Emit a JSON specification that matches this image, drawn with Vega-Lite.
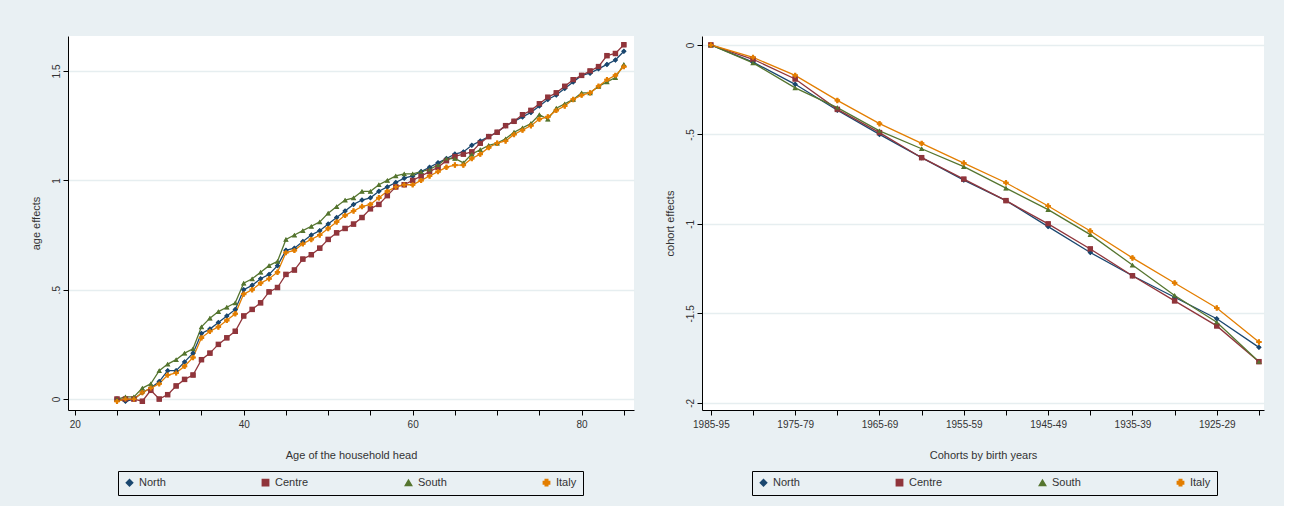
{
  "$schema": "https://vega.github.io/schema/vega-lite/v6.json",
  "background": "#e9f0f3",
  "padding": {"left": 30, "top": 36, "right": 20, "bottom": 10},
  "config": {
    "font": "Liberation Sans",
    "view": {"fill": "white", "stroke": null},
    "axis": {"labelColor": "#333", "titleColor": "#333", "labelFontSize": 10, "titleFontSize": 11, "titleFontWeight": "normal", "domainColor": "black", "tickColor": "black", "gridColor": "#e6eef0", "gridWidth": 1.5},
    "legend": {"labelFontSize": 11, "labelColor": "#333"}
  },
  "datasets": {
    "age": [
      {"age":25,"North":0,"Centre":0,"South":0,"Italy":-0.01},
      {"age":26,"North":-0.01,"Centre":0,"South":0.01,"Italy":0},
      {"age":27,"North":0,"Centre":0,"South":0.01,"Italy":0},
      {"age":28,"North":0.03,"Centre":-0.01,"South":0.05,"Italy":0.03},
      {"age":29,"North":0.05,"Centre":0.04,"South":0.07,"Italy":0.05},
      {"age":30,"North":0.08,"Centre":0,"South":0.13,"Italy":0.07},
      {"age":31,"North":0.13,"Centre":0.02,"South":0.16,"Italy":0.11},
      {"age":32,"North":0.13,"Centre":0.06,"South":0.18,"Italy":0.12},
      {"age":33,"North":0.17,"Centre":0.09,"South":0.21,"Italy":0.15},
      {"age":34,"North":0.21,"Centre":0.11,"South":0.23,"Italy":0.19},
      {"age":35,"North":0.30,"Centre":0.18,"South":0.33,"Italy":0.28},
      {"age":36,"North":0.32,"Centre":0.21,"South":0.37,"Italy":0.31},
      {"age":37,"North":0.35,"Centre":0.25,"South":0.40,"Italy":0.33},
      {"age":38,"North":0.38,"Centre":0.28,"South":0.42,"Italy":0.36},
      {"age":39,"North":0.41,"Centre":0.31,"South":0.44,"Italy":0.39},
      {"age":40,"North":0.50,"Centre":0.38,"South":0.53,"Italy":0.48},
      {"age":41,"North":0.52,"Centre":0.41,"South":0.55,"Italy":0.50},
      {"age":42,"North":0.55,"Centre":0.44,"South":0.58,"Italy":0.53},
      {"age":43,"North":0.57,"Centre":0.49,"South":0.61,"Italy":0.55},
      {"age":44,"North":0.61,"Centre":0.51,"South":0.63,"Italy":0.58},
      {"age":45,"North":0.68,"Centre":0.57,"South":0.73,"Italy":0.67},
      {"age":46,"North":0.69,"Centre":0.59,"South":0.75,"Italy":0.68},
      {"age":47,"North":0.72,"Centre":0.64,"South":0.77,"Italy":0.71},
      {"age":48,"North":0.75,"Centre":0.66,"South":0.79,"Italy":0.73},
      {"age":49,"North":0.77,"Centre":0.69,"South":0.81,"Italy":0.75},
      {"age":50,"North":0.80,"Centre":0.73,"South":0.85,"Italy":0.78},
      {"age":51,"North":0.83,"Centre":0.76,"South":0.88,"Italy":0.81},
      {"age":52,"North":0.86,"Centre":0.78,"South":0.91,"Italy":0.84},
      {"age":53,"North":0.89,"Centre":0.80,"South":0.92,"Italy":0.86},
      {"age":54,"North":0.91,"Centre":0.83,"South":0.95,"Italy":0.88},
      {"age":55,"North":0.92,"Centre":0.87,"South":0.95,"Italy":0.89},
      {"age":56,"North":0.95,"Centre":0.89,"South":0.98,"Italy":0.92},
      {"age":57,"North":0.97,"Centre":0.93,"South":1.00,"Italy":0.95},
      {"age":58,"North":0.99,"Centre":0.97,"South":1.02,"Italy":0.97},
      {"age":59,"North":1.01,"Centre":0.98,"South":1.03,"Italy":0.98},
      {"age":60,"North":1.02,"Centre":1.00,"South":1.03,"Italy":0.98},
      {"age":61,"North":1.04,"Centre":1.02,"South":1.04,"Italy":1.00},
      {"age":62,"North":1.06,"Centre":1.04,"South":1.05,"Italy":1.02},
      {"age":63,"North":1.08,"Centre":1.06,"South":1.07,"Italy":1.04},
      {"age":64,"North":1.10,"Centre":1.09,"South":1.10,"Italy":1.06},
      {"age":65,"North":1.12,"Centre":1.11,"South":1.10,"Italy":1.07},
      {"age":66,"North":1.13,"Centre":1.12,"South":1.08,"Italy":1.07},
      {"age":67,"North":1.16,"Centre":1.13,"South":1.12,"Italy":1.10},
      {"age":68,"North":1.18,"Centre":1.17,"South":1.14,"Italy":1.12},
      {"age":69,"North":1.20,"Centre":1.20,"South":1.16,"Italy":1.15},
      {"age":70,"North":1.22,"Centre":1.22,"South":1.17,"Italy":1.17},
      {"age":71,"North":1.25,"Centre":1.25,"South":1.19,"Italy":1.18},
      {"age":72,"North":1.27,"Centre":1.27,"South":1.22,"Italy":1.21},
      {"age":73,"North":1.29,"Centre":1.30,"South":1.24,"Italy":1.23},
      {"age":74,"North":1.31,"Centre":1.32,"South":1.26,"Italy":1.25},
      {"age":75,"North":1.34,"Centre":1.35,"South":1.30,"Italy":1.28},
      {"age":76,"North":1.37,"Centre":1.38,"South":1.28,"Italy":1.29},
      {"age":77,"North":1.39,"Centre":1.40,"South":1.33,"Italy":1.32},
      {"age":78,"North":1.42,"Centre":1.43,"South":1.35,"Italy":1.34},
      {"age":79,"North":1.45,"Centre":1.46,"South":1.37,"Italy":1.37},
      {"age":80,"North":1.48,"Centre":1.48,"South":1.40,"Italy":1.39},
      {"age":81,"North":1.49,"Centre":1.50,"South":1.40,"Italy":1.40},
      {"age":82,"North":1.51,"Centre":1.52,"South":1.43,"Italy":1.43},
      {"age":83,"North":1.53,"Centre":1.57,"South":1.45,"Italy":1.46},
      {"age":84,"North":1.55,"Centre":1.58,"South":1.47,"Italy":1.48},
      {"age":85,"North":1.59,"Centre":1.62,"South":1.53,"Italy":1.52}
    ],
    "cohort": [
      {"i":0,"North":0,"Centre":0,"South":0,"Italy":0},
      {"i":1,"North":-0.096,"Centre":-0.08,"South":-0.10,"Italy":-0.07},
      {"i":2,"North":-0.22,"Centre":-0.19,"South":-0.24,"Italy":-0.17},
      {"i":3,"North":-0.365,"Centre":-0.36,"South":-0.35,"Italy":-0.31},
      {"i":4,"North":-0.50,"Centre":-0.49,"South":-0.48,"Italy":-0.44},
      {"i":5,"North":-0.63,"Centre":-0.63,"South":-0.58,"Italy":-0.55},
      {"i":6,"North":-0.755,"Centre":-0.75,"South":-0.68,"Italy":-0.66},
      {"i":7,"North":-0.87,"Centre":-0.87,"South":-0.80,"Italy":-0.77},
      {"i":8,"North":-1.015,"Centre":-1.0,"South":-0.92,"Italy":-0.90},
      {"i":9,"North":-1.16,"Centre":-1.14,"South":-1.06,"Italy":-1.04},
      {"i":10,"North":-1.29,"Centre":-1.29,"South":-1.23,"Italy":-1.19},
      {"i":11,"North":-1.41,"Centre":-1.43,"South":-1.40,"Italy":-1.33},
      {"i":12,"North":-1.53,"Centre":-1.57,"South":-1.55,"Italy":-1.47},
      {"i":13,"North":-1.69,"Centre":-1.77,"South":-1.77,"Italy":-1.66}
    ]
  },
  "resolve": {"legend": {"color": "independent", "shape": "independent"}},
  "spacing": 30,
  "hconcat": [
    {
      "width": 566,
      "height": 374,
      "data": {"name": "age"},
      "transform": [{"fold": ["North", "Centre", "South", "Italy"], "as": ["region", "value"]}],
      "encoding": {
        "x": {"field": "age", "type": "quantitative", "title": "Age of the household head",
          "scale": {"domain": [19.2, 86.2], "nice": false, "zero": false},
          "axis": {"values": [20, 25, 30, 35, 40, 45, 50, 55, 60, 65, 70, 75, 80, 85], "labelExpr": "datum.value % 20 == 0 ? datum.label : ''", "grid": false, "titlePadding": 20, "labelPadding": 4}},
        "y": {"field": "value", "type": "quantitative", "title": "age effects",
          "scale": {"domain": [-0.05, 1.66], "nice": false},
          "axis": {"values": [0, 0.5, 1, 1.5], "labelAngle": -90, "labelAlign": "center", "labelBaseline": "bottom", "labelExpr": "replace(toString(datum.value), '0.', '.')", "titlePadding": 10}},
        "color": {"field": "region", "type": "nominal", "sort": ["North", "Centre", "South", "Italy"],
          "scale": {"domain": ["North", "Centre", "South", "Italy"], "range": ["#1a476f", "#90353b", "#55752f", "#e37e00"]},
          "legend": {"orient": "none", "legendX": 50, "legendY": 435, "direction": "horizontal", "columns": 4, "title": null, "strokeColor": "black", "padding": 6, "columnPadding": 93, "symbolSize": 40}},
        "shape": {"field": "region", "type": "nominal", "sort": ["North", "Centre", "South", "Italy"],
          "scale": {"domain": ["North", "Centre", "South", "Italy"], "range": ["diamond", "square", "triangle-up", "cross"]},
          "legend": {"orient": "none", "legendX": 50, "legendY": 435, "direction": "horizontal", "columns": 4, "title": null, "strokeColor": "black", "padding": 6, "columnPadding": 93, "symbolSize": 40}}
      },
      "layer": [
        {"mark": {"type": "line", "strokeWidth": 1.3}},
        {"mark": {"type": "point", "filled": true, "size": 22, "opacity": 1}}
      ]
    },
    {
      "width": 562,
      "height": 374,
      "data": {"name": "cohort"},
      "transform": [{"fold": ["North", "Centre", "South", "Italy"], "as": ["region", "value"]}],
      "encoding": {
        "x": {"field": "i", "type": "quantitative", "title": "Cohorts by birth years",
          "scale": {"domain": [-0.21, 13.12], "nice": false, "zero": false},
          "axis": {"values": [0, 1, 2, 3, 4, 5, 6, 7, 8, 9, 10, 11, 12, 13], "labelExpr": "datum.value % 2 == 0 ? ['1985-95','1975-79','1965-69','1955-59','1945-49','1935-39','1925-29'][datum.value / 2] : ''", "grid": false, "titlePadding": 20, "labelPadding": 4}},
        "y": {"field": "value", "type": "quantitative", "title": "cohort effects",
          "scale": {"domain": [-2.04, 0.05], "nice": false},
          "axis": {"values": [0, -0.5, -1, -1.5, -2], "labelAngle": -90, "labelAlign": "center", "labelBaseline": "bottom", "labelExpr": "replace(toString(datum.value), '0.', '.')", "titlePadding": 10}},
        "color": {"field": "region", "type": "nominal", "sort": ["North", "Centre", "South", "Italy"],
          "scale": {"domain": ["North", "Centre", "South", "Italy"], "range": ["#1a476f", "#90353b", "#55752f", "#e37e00"]},
          "legend": {"orient": "none", "legendX": 50, "legendY": 435, "direction": "horizontal", "columns": 4, "title": null, "strokeColor": "black", "padding": 6, "columnPadding": 93, "symbolSize": 40}},
        "shape": {"field": "region", "type": "nominal", "sort": ["North", "Centre", "South", "Italy"],
          "scale": {"domain": ["North", "Centre", "South", "Italy"], "range": ["diamond", "square", "triangle-up", "cross"]},
          "legend": {"orient": "none", "legendX": 50, "legendY": 435, "direction": "horizontal", "columns": 4, "title": null, "strokeColor": "black", "padding": 6, "columnPadding": 93, "symbolSize": 40}}
      },
      "layer": [
        {"mark": {"type": "line", "strokeWidth": 1.3}},
        {"mark": {"type": "point", "filled": true, "size": 22, "opacity": 1}}
      ]
    }
  ]
}
